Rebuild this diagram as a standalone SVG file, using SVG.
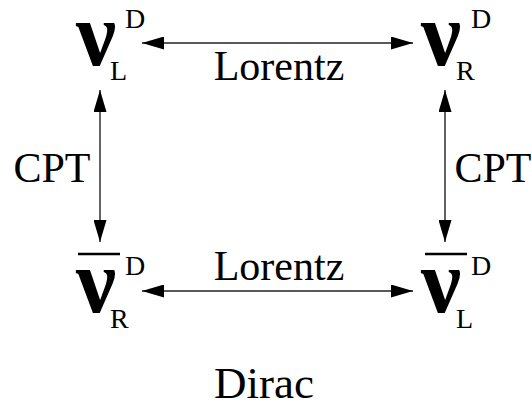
<svg xmlns="http://www.w3.org/2000/svg" width="532" height="413" viewBox="0 0 532 413">
  <style>
    .nu { font-family: "Liberation Serif", "DejaVu Serif", serif; font-weight: bold; font-size: 90px; fill: #000; }
    .idx { font-family: "Liberation Serif", serif; font-size: 28px; fill: #000; }
    .lbl { font-family: "Liberation Serif", serif; font-size: 42px; fill: #000; }
    .big { font-size: 45px; }
    .bar { stroke: #000; stroke-width: 2.5; }
    .conn { stroke: #222; stroke-width: 1.4; fill: none; marker-start: url(#head); marker-end: url(#head); }
  </style>
  <defs>
    <marker id="head" viewBox="0 0 22 13" refX="22" refY="6.5" markerWidth="22" markerHeight="13" markerUnits="userSpaceOnUse" orient="auto-start-reverse">
      <path d="M0,0 L22,6.5 L0,13 Z" fill="#000"/>
    </marker>
  </defs>

  <g id="connectors">
    <line class="conn" x1="142" y1="43" x2="413" y2="43"/>
    <line class="conn" x1="142" y1="291" x2="413" y2="291"/>
    <line class="conn" x1="100" y1="90" x2="100" y2="242"/>
    <line class="conn" x1="445" y1="90" x2="445" y2="242"/>
  </g>

  <g id="nuL">
    <text class="nu" x="76" y="65">ν</text>
    <text class="idx" x="125" y="28">D</text>
    <text class="idx" x="110" y="80">L</text>
  </g>
  <g id="nuR">
    <text class="nu" x="421" y="65">ν</text>
    <text class="idx" x="471" y="28">D</text>
    <text class="idx" x="456" y="80">R</text>
  </g>
  <g id="nuRbar">
    <line class="bar" x1="78" y1="254" x2="120" y2="254"/>
    <text class="nu" x="76" y="312">ν</text>
    <text class="idx" x="125" y="275">D</text>
    <text class="idx" x="110" y="328">R</text>
  </g>
  <g id="nuLbar">
    <line class="bar" x1="425" y1="254" x2="467" y2="254"/>
    <text class="nu" x="421" y="312">ν</text>
    <text class="idx" x="471" y="275">D</text>
    <text class="idx" x="456" y="328">L</text>
  </g>

  <g id="labels">
    <text class="lbl" x="279" y="80" text-anchor="middle">Lorentz</text>
    <text class="lbl" x="279" y="280" text-anchor="middle">Lorentz</text>
    <text class="lbl" x="52" y="182" text-anchor="middle">CPT</text>
    <text class="lbl" x="493" y="182" text-anchor="middle">CPT</text>
    <text class="lbl big" x="264" y="398" text-anchor="middle">Dirac</text>
  </g>
</svg>
